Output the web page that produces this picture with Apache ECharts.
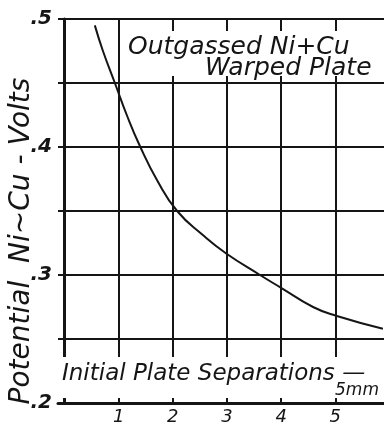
<!DOCTYPE html>
<html>
<head>
<meta charset="utf-8">
<script src="https://cdn.jsdelivr.net/npm/echarts@6/dist/echarts.min.js"></script>
<style>
  html, body { margin: 0; padding: 0; background: #fff; }
  #chart { width: 384px; height: 426px; }
</style>
</head>
<body>
<div id="chart"></div>
<script>
// plate separation (mm) vs potential (volts)
var separation = [0.56, 0.71, 0.93, 1.15, 1.39, 1.71, 2.08, 2.56, 2.98, 3.61, 4.0, 4.59, 5.03, 5.88];
var potential  = [0.495, 0.475, 0.450, 0.425, 0.401, 0.374, 0.350, 0.331, 0.317, 0.300, 0.290, 0.275, 0.268, 0.258];

var xTicks = [1, 2, 3, 4, 5];
var yLabelValues = [0.2, 0.3, 0.4, 0.5];
var yLabels = ['.2', '.3', '.4', '.5'];

var INK = '#151515';
var FONT = '"DejaVu Sans", sans-serif';

var myChart = echarts.init(document.getElementById('chart'));

var option = {
  backgroundColor: '#fff',
  animation: false,
  grid: { left: 58, right: 0, top: 19, bottom: 21 },
  xAxis: {
    type: 'value',
    min: -0.12,
    max: 5.9,
    axisLine: { show: true, lineStyle: { color: INK, width: 3 } },
    axisTick: { show: false },
    splitLine: { show: false },
    axisLabel: {
      customValues: xTicks,
      margin: 5,
      color: INK,
      fontSize: 18,
      fontStyle: 'italic',
      fontFamily: FONT
    }
  },
  yAxis: {
    type: 'value',
    min: 0.2,
    max: 0.5,
    interval: 0.05,
    axisLine: { show: true, lineStyle: { color: INK, width: 3 } },
    axisTick: { show: false },
    splitLine: { show: true, lineStyle: { color: INK, width: 2 } },
    axisLabel: {
      customValues: yLabelValues,
      margin: 6,
      color: INK,
      fontSize: 20,
      fontStyle: 'italic',
      fontWeight: 'bold',
      fontFamily: FONT,
      formatter: function (v) {
        var i = yLabelValues.findIndex(function (d) { return Math.abs(d - v) < 1e-6; });
        return i >= 0 ? yLabels[i] : '';
      }
    }
  },
  series: [
    {
      type: 'line',
      data: separation.map(function (x, i) { return [x, potential[i]]; }),
      smooth: 0.5,
      showSymbol: false,
      lineStyle: { color: INK, width: 2 },
      markLine: {
        silent: true,
        symbol: ['none', 'none'],
        label: { show: false },
        lineStyle: { color: INK, width: 2, type: 'solid' },
        data: xTicks.map(function (v) { return { xAxis: v }; })
      }
    }
  ],
  graphic: [
    { type: 'rect', shape: { x: 124, y: 31, width: 260, height: 45 }, style: { fill: '#fff' }, z: 50 },
    { type: 'rect', shape: { x: 60, y: 357, width: 324, height: 41 }, style: { fill: '#fff' }, z: 50 },
    {
      type: 'text', x: 128, y: 60, z: 60,
      style: { text: 'Outgassed Ni+Cu', fill: INK, font: 'italic 25px ' + FONT, textVerticalAlign: 'bottom' }
    },
    {
      type: 'text', x: 205, y: 81, z: 60,
      style: { text: 'Warped Plate', fill: INK, font: 'italic 25px ' + FONT, textVerticalAlign: 'bottom' }
    },
    {
      type: 'text', x: 62, y: 386, z: 60,
      style: { text: 'Initial Plate Separations \u2014', fill: INK, font: 'italic 23px ' + FONT, textVerticalAlign: 'bottom' }
    },
    {
      type: 'text', x: 335, y: 399, z: 60,
      style: { text: '5mm', fill: INK, font: 'italic 17px ' + FONT, textVerticalAlign: 'bottom' }
    },
    {
      type: 'text', x: 22, y: 241, z: 60, rotation: Math.PI / 2,
      style: {
        text: 'Potential  Ni~Cu - Volts', fill: INK, font: 'italic 28px ' + FONT,
        textAlign: 'center', textVerticalAlign: 'middle'
      }
    }
  ]
};

myChart.setOption(option);
</script>
</body>
</html>
